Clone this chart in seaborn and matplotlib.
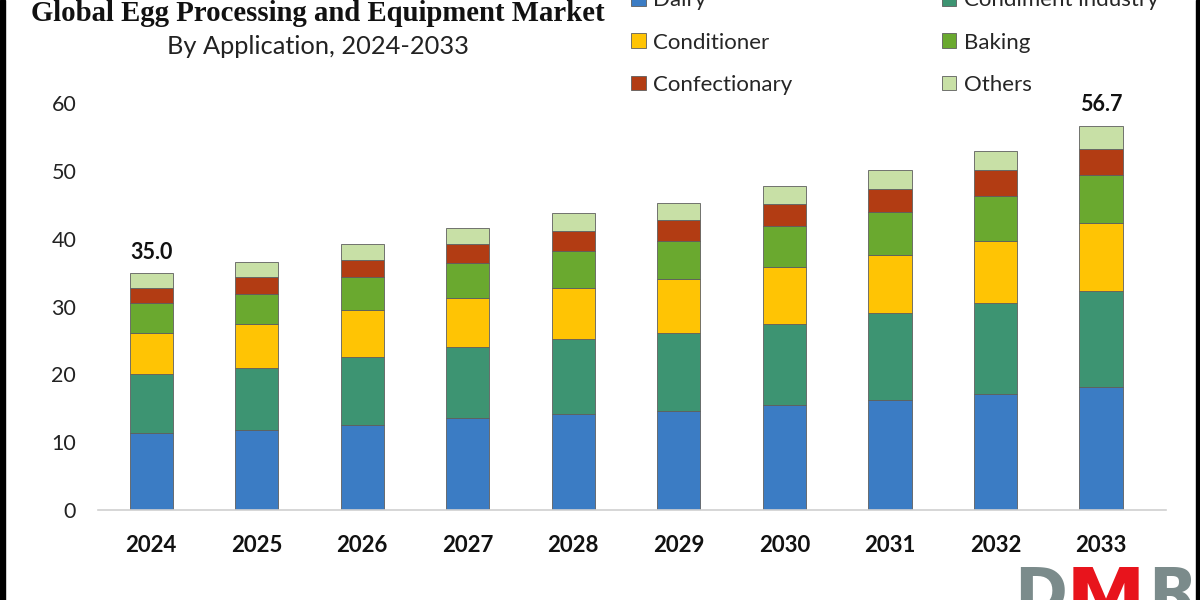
import numpy as np
import pandas as pd
import matplotlib
matplotlib.use("Agg")
import matplotlib.pyplot as plt
import seaborn as sns

years = ['2024', '2025', '2026', '2027', '2028', '2029', '2030', '2031', '2032', '2033']
segments = ['Dairy', 'Condiment industry', 'Conditioner', 'Baking', 'Confectionary', 'Others']

dairy         = [11.3, 11.8, 12.5, 13.5, 14.2, 14.6, 15.5, 16.2, 17.1, 18.2]
condiment     = [8.8, 9.2, 10.1, 10.5, 11.0, 11.5, 12.0, 12.8, 13.4, 14.1]
conditioner   = [6.0, 6.4, 6.9, 7.2, 7.6, 7.9, 8.4, 8.6, 9.2, 10.1]
baking        = [4.4, 4.5, 4.8, 5.2, 5.4, 5.7, 6.0, 6.4, 6.6, 7.0]
confectionary = [2.3, 2.5, 2.5, 2.9, 3.0, 3.0, 3.2, 3.4, 3.8, 3.9]
others        = [2.2, 2.2, 2.4, 2.3, 2.6, 2.6, 2.7, 2.8, 2.9, 3.4]

colors = ['#3b7cc4', '#3d9472', '#ffc404', '#6aa92f', '#b23c13', '#c8e0a6']

df = pd.DataFrame({'Year': years, 'Dairy': dairy, 'Condiment industry': condiment,
                   'Conditioner': conditioner, 'Baking': baking,
                   'Confectionary': confectionary, 'Others': others})

sns.set_theme(style='white')
plt.rcParams['font.family'] = ['Lato', 'DejaVu Sans']

fig = plt.figure(figsize=(12, 6), dpi=100)
ax = fig.add_axes([0.082, 0.15, 0.89, 0.678])

bottom = np.zeros(len(years))
for seg, col in zip(segments, colors):
    sns.barplot(x='Year', y=seg, data=df, color=col, bottom=bottom, width=0.41,
                saturation=1, edgecolor='#5e5e5e', linewidth=0.6, ax=ax, label=seg)
    bottom += df[seg].values

totals = bottom
for i in [0, len(years) - 1]:
    ax.text(i, totals[i] + 1.5, f"{totals[i]:.1f}", ha='center', va='bottom',
            fontsize=15.5, fontweight='bold', color='#111111')

ax.set_ylim(0, 60)
ax.set_xlim(-0.5, 9.62)
ax.set_yticks(range(0, 61, 10))
ax.set_xlabel('')
ax.set_ylabel('')
ax.tick_params(axis='y', labelsize=15.5, colors='#222222', length=0, pad=16)
ax.tick_params(axis='x', labelsize=16, length=0, pad=18)
for lbl in ax.get_xticklabels():
    lbl.set_fontweight('bold')
    lbl.set_color('#111111')
for s in ['top', 'right', 'left']:
    ax.spines[s].set_visible(False)
ax.spines['bottom'].set_color('#d0d0d0')
ax.spines['bottom'].set_linewidth(1.2)
if ax.legend_:
    ax.legend_.remove()

# legend reads row by row: reorder for matplotlib's column filling
handles, labels = ax.get_legend_handles_labels()
order = [0, 2, 4, 1, 3, 5]
fig.legend([handles[k] for k in order], [labels[k] for k in order], ncol=2,
           loc='center left', bbox_to_anchor=(0.526, 0.929),
           frameon=False, fontsize=16, handlelength=0.65, handleheight=0.65,
           handletextpad=0.35, columnspacing=6.7, labelspacing=1.0,
           borderpad=0, borderaxespad=0)

fig.text(0.265, 0.978, 'Global Egg Processing and Equipment Market', ha='center', va='center',
         fontsize=20.7, fontweight='bold', family='Liberation Serif', color='#111111')
fig.text(0.265, 0.922, 'By Application, 2024-2033', ha='center', va='center',
         fontsize=18.3, color='#222222')

# logo in the corner (cut by the bottom edge, as in the source)
fig.text(0.845, -0.023, 'D', fontsize=46, fontweight='bold', color='#7b8b8b', family='DejaVu Sans')
fig.text(0.888, -0.043, 'M', fontsize=58, fontweight='bold', color='#e8141c', family='DejaVu Sans')
fig.text(0.957, -0.023, 'R', fontsize=46, fontweight='bold', color='#7b8b8b', family='DejaVu Sans')

fig.patches.append(plt.Rectangle((0, 0), 0.004, 1, transform=fig.transFigure, color='black'))
fig.patches.append(plt.Rectangle((0.997, 0), 0.003, 1, transform=fig.transFigure, color='black'))

fig.savefig('out.png', dpi=100)
